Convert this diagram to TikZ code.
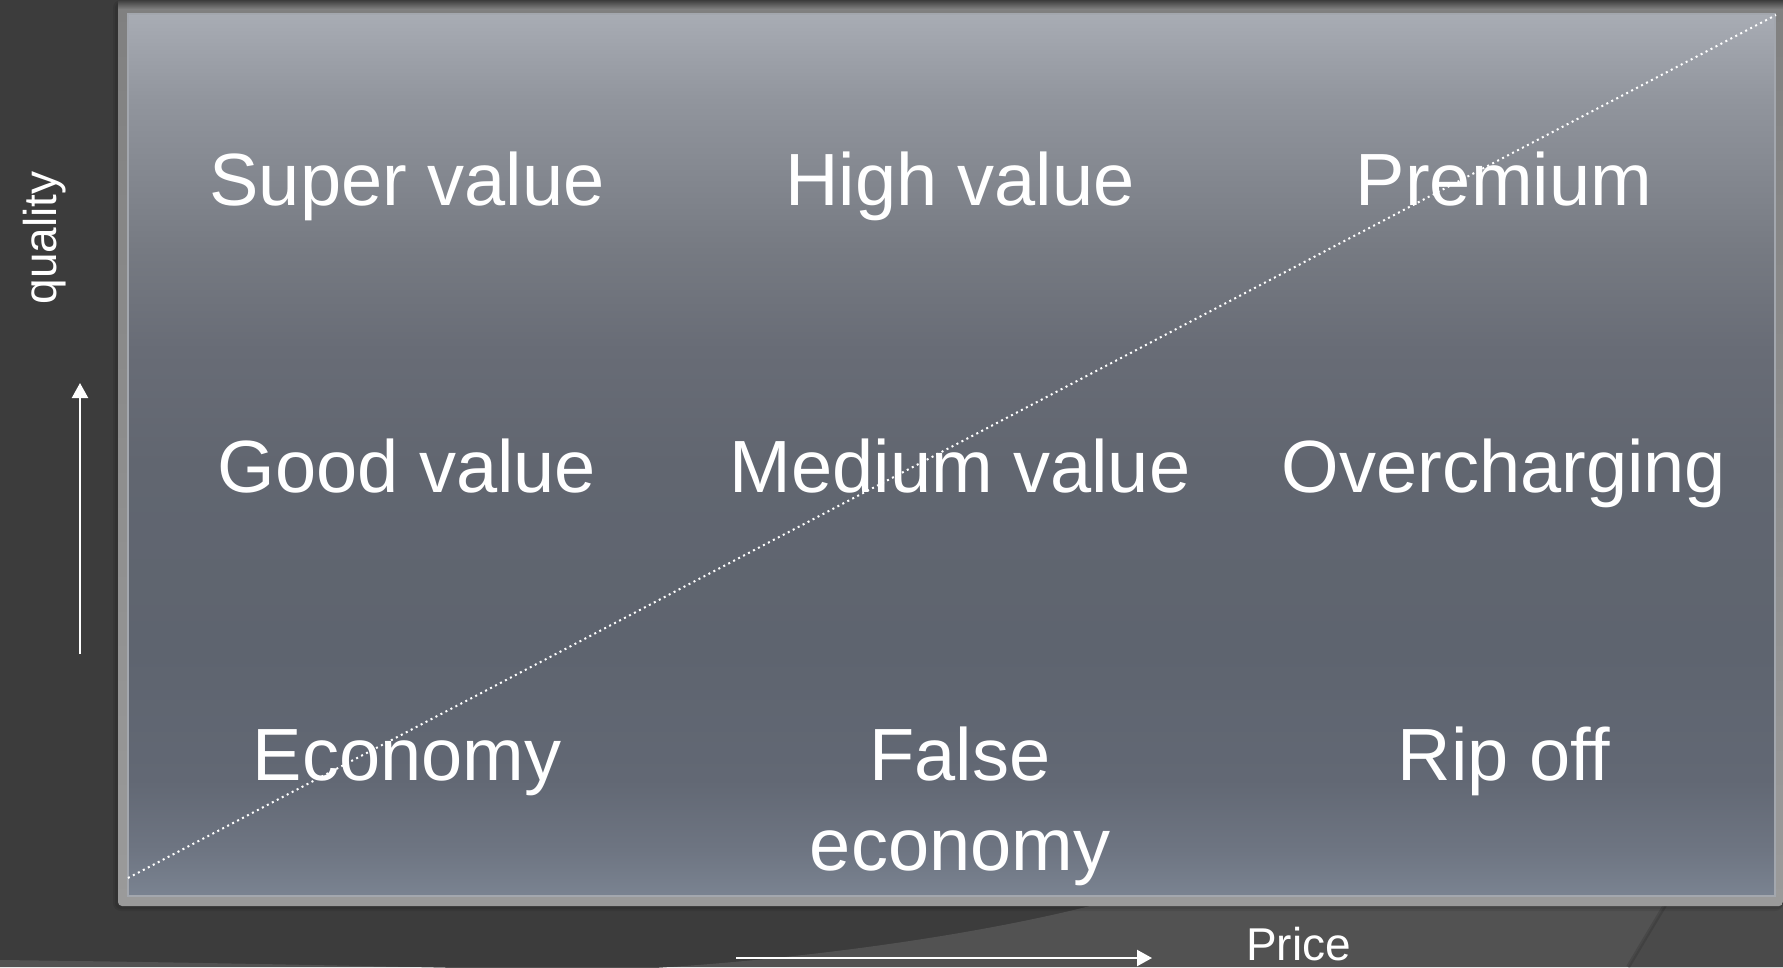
\documentclass[tikz,border=0pt]{standalone}
\usepackage{fontspec}
\setmainfont{Liberation Sans}
\usetikzlibrary{arrows.meta}

% background tones
\definecolor{bgdark}{HTML}{3C3C3C}
\definecolor{bglight}{HTML}{525252}
\definecolor{bgright}{HTML}{4A4A4A}
\definecolor{edgeline}{HTML}{A3A7AE}
\definecolor{frametop}{HTML}{808080}
\definecolor{framebot}{HTML}{9A9A9A}
% panel gradient stops, bottom to top
\definecolor{s0}{RGB}{122,131,145}
\definecolor{s1}{RGB}{110,117,130}
\definecolor{s2}{RGB}{98,104,116}
\definecolor{s3}{RGB}{94,100,111}
\definecolor{s4}{RGB}{97,102,112}
\definecolor{s5}{RGB}{104,108,118}
\definecolor{s6}{RGB}{118,122,130}
\definecolor{s7}{RGB}{145,149,157}
\definecolor{s8}{RGB}{168,172,180}

\pgfdeclareverticalshading{panelshade}{100bp}{%
  color(0bp)=(s0); color(25bp)=(s0); color(27.6bp)=(s1);
  color(31.6bp)=(s2); color(38.9bp)=(s3); color(49.4bp)=(s4);
  color(56bp)=(s5); color(61.6bp)=(s6); color(70.1bp)=(s7);
  color(75bp)=(s8); color(100bp)=(s8)}

\tikzset{
  lbl/.style={text=white, font=\fontsize{74}{90}\selectfont, inner sep=0pt, anchor=base, align=center},
  axislbl/.style={text=white, font=\fontsize{46}{55}\selectfont, inner sep=0pt},
  axisarrow/.style={draw=white, line width=2.2pt, -{Triangle[length=15pt,width=16pt]}},
  diag/.style={draw=white, line width=2pt, dash pattern=on 2pt off 3.6pt},
}

\begin{document}
\begin{tikzpicture}[x=1pt,y=-1pt]
  \useasboundingbox (0,0) rectangle (1783,967);

  % backdrop
  \fill[bgdark] (0,0) rectangle (1783,967);
  % lighter sweep along the bottom
  \fill[bglight] (0,960) .. controls (250,963) and (450,968) .. (600,971)
     .. controls (800,962) and (1000,932) .. (1120,898)
     -- (1783,898) -- (1783,967) -- (0,967) -- cycle;
  % darker wedge at the lower right
  \fill[bgright] (1668,900) -- (1783,900) -- (1783,967) -- (1628,967) -- cycle;
  \draw[black, opacity=0.12, line width=4pt] (1668,900) -- (1628,967);

  % soft shadow and frame around the panel
  \fill[black, opacity=0.08, rounded corners=8pt] (113,0) rectangle (1783,911);
  \fill[black, opacity=0.08, rounded corners=6pt] (115,2) rectangle (1783,909);
  \shade[top color=frametop, bottom color=framebot, rounded corners=4pt]
     (118,4) rectangle (1783,906);
  \shade[top color=bgdark, bottom color=frametop] (118,0) rectangle (1783,9);

  % panel
  \shade[shading=panelshade] (128,14) rectangle (1775,896);
  \draw[edgeline, line width=1.5pt] (128,14) rectangle (1775,896);

  % price/quality diagonal
  \coordinate (lowleft) at (128,878);
  \coordinate (upright) at (1776,15);
  \draw[diag] (lowleft) -- (upright);

  % grid of labels
  \node[lbl] (superv) at (407,205) {Super value};
  \node[lbl] (highv)  at (960,205) {High value};
  \node[lbl] (prem)   at (1504,205) {Premium};
  \node[lbl] (goodv)  at (407,492) {Good value};
  \node[lbl] (medv)   at (960,492) {Medium value};
  \node[lbl] (overch) at (1504,492) {Overcharging};
  \node[lbl] (econ)   at (407,780) {Economy};
  \node[lbl] (falsee) at (960,870) {False\\economy};
  \node[lbl] (ripoff) at (1504,780) {Rip off};

  % axes
  \node[axislbl, rotate=90] (quality) at (45,238) {quality};
  \node[axislbl, anchor=base west] (price) at (1246,960) {Price};
  \coordinate (qlo) at (80,654);
  \coordinate (qhi) at (80,383);
  \draw[axisarrow] (qlo) -- (qhi);
  \coordinate (plo) at (736,958);
  \coordinate (phi) at (1152,958);
  \draw[axisarrow] (plo) -- (phi);
\end{tikzpicture}
\end{document}
